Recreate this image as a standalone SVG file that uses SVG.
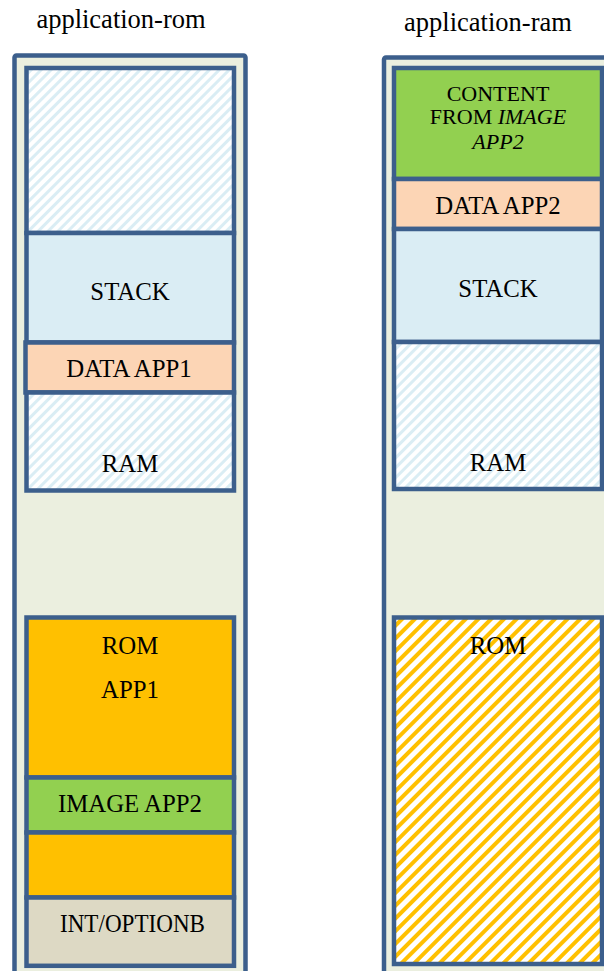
<svg xmlns="http://www.w3.org/2000/svg" width="604" height="971" viewBox="0 0 604 971">
<style>
.outer{fill:#ebefdf;stroke:#3c5f8c;stroke-width:4.5}
.blk{stroke:#3c5f8c;stroke-width:4.5}
.t{font-family:'Liberation Serif',serif;font-size:24.8px;fill:#000;text-anchor:middle}
.c{font-size:22px}
.title{font-family:'Liberation Serif',serif;font-size:26.5px;fill:#000;text-anchor:middle}
</style>
<defs>
<pattern id="hb" patternUnits="userSpaceOnUse" width="7" height="7" patternTransform="rotate(45)">
<rect width="7" height="7" fill="#fff"/>
<rect x="0" y="0" width="3" height="7" fill="#daedf4"/>
</pattern>
<pattern id="ho" patternUnits="userSpaceOnUse" width="9" height="9" patternTransform="rotate(45)">
<rect width="9" height="9" fill="#fff"/>
<rect x="0" y="0" width="4" height="9" fill="#ffc000"/>
</pattern>
</defs>
<text class="title" x="121" y="28">application-rom</text>
<text class="title" x="488" y="31">application-ram</text>

<g id="rom-column">
<rect class="outer" x="14.5" y="55.5" width="231" height="930" rx="2"/>
</g>
<g id="rom-free-top"><rect class="blk" fill="url(#hb)" x="26.5" y="68" width="207.5" height="165"/></g>
<g id="rom-stack"><rect class="blk" fill="#daedf4" x="26.5" y="233" width="207.5" height="109.5"/><text class="t" x="130" y="299.5">STACK</text></g>
<g id="rom-data-app1"><rect class="blk" fill="#fcd5b5" x="25.5" y="342.5" width="208.5" height="50"/><text class="t" x="129" y="376.5">DATA APP1</text></g>
<g id="rom-ram"><rect class="blk" fill="url(#hb)" x="26.5" y="392.5" width="207.5" height="98"/><text class="t" x="130" y="471.5">RAM</text></g>
<g id="rom-rom"><rect class="blk" fill="#ffc000" x="26.5" y="617.5" width="207.5" height="160"/><text class="t" x="130" y="654">ROM</text><text class="t" x="130" y="698">APP1</text></g>
<g id="rom-image-app2"><rect class="blk" fill="#92d050" x="26.5" y="777.5" width="207.5" height="55"/><text class="t" x="130" y="812">IMAGE APP2</text></g>
<g id="rom-free-rom"><rect class="blk" fill="#ffc000" x="26.5" y="832.5" width="207.5" height="65"/></g>
<g id="rom-int-optionb"><rect class="blk" fill="#ddd9c4" x="26.5" y="897.5" width="207.5" height="68.3"/><text class="t" x="132.5" y="931.7" textLength="145" lengthAdjust="spacingAndGlyphs">INT/OPTIONB</text></g>

<g id="ram-column">
<rect class="outer" x="384" y="57.5" width="240" height="930" rx="2"/>
</g>
<g id="ram-content"><rect class="blk" fill="#92d050" x="394" y="68" width="208" height="111"/>
<text class="t c" x="498" y="100.5">CONTENT</text>
<text class="t c" x="498" y="124">FROM <tspan font-style="italic">IMAGE</tspan></text>
<text class="t c" x="498" y="148.5" font-style="italic">APP2</text></g>
<g id="ram-data-app2"><rect class="blk" fill="#fcd5b5" x="394" y="179" width="208" height="50"/><text class="t" x="498" y="214">DATA APP2</text></g>
<g id="ram-stack"><rect class="blk" fill="#daedf4" x="394" y="229" width="208" height="113"/><text class="t" x="498" y="296.5">STACK</text></g>
<g id="ram-ram"><rect class="blk" fill="url(#hb)" x="394" y="342" width="208" height="147"/><text class="t" x="498" y="471">RAM</text></g>
<g id="ram-rom"><rect class="blk" fill="url(#ho)" x="394" y="617.5" width="208" height="346.5"/><text class="t" x="498" y="654">ROM</text></g>
<g id="connectors"></g>
</svg>
